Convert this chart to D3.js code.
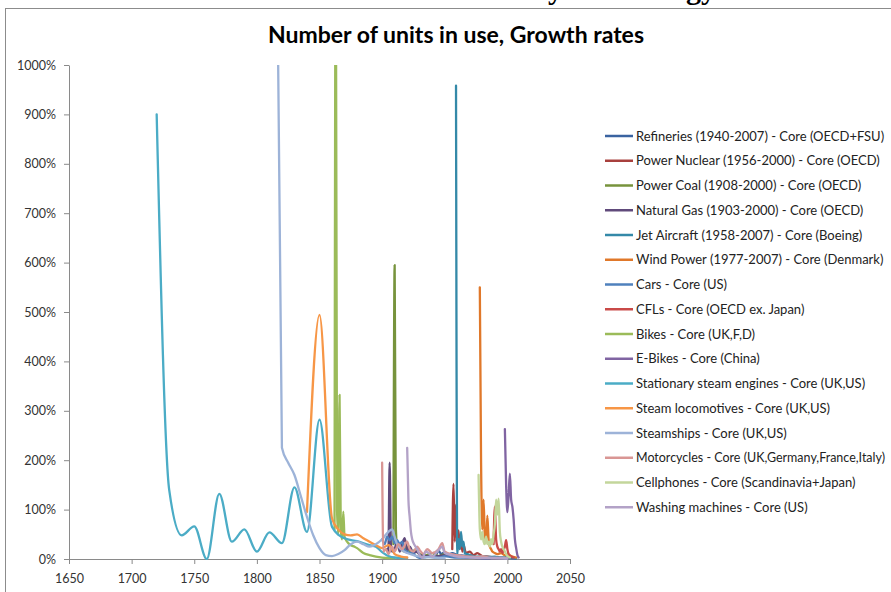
<!DOCTYPE html>
<html><head><meta charset="utf-8">
<script src="https://cdn.jsdelivr.net/npm/d3@7"></script>
<style>
html,body{margin:0;padding:0;background:#fff;}
svg{display:block;}
</style></head>
<body>
<svg id="chart" width="891" height="592"></svg>
<script>
// ---------- DATA (growth rate, % per year) ----------
const xTicks = [1650,1700,1750,1800,1850,1900,1950,2000,2050];
const yTicks = [0,100,200,300,400,500,600,700,800,900,1000];

const refineries = [[1941,12],[1943,8],[1945,18],[1947,10],[1950,14],[1953,9],[1956,12],[1960,8],[1965,7],[1970,6],[1975,4],[1980,2],[1985,1],[1990,2],[1995,1],[2000,2],[2007,1]];
const powerNuclear = [[1956,20],[1957,152],[1958,35],[1959,110],[1960,30],[1961,58],[1962,20],[1963,45],[1964,15],[1965,28],[1967,12],[1970,15],[1973,8],[1976,12],[1980,6],[1985,5],[1990,3],[1995,2],[2000,1]];
const powerCoal = [[1909,30],[1910,595],[1911,60],[1912,25],[1913,30],[1915,20],[1918,15],[1920,25],[1923,12],[1926,18],[1930,10],[1935,8],[1940,12],[1945,6],[1950,10],[1955,8],[1960,6],[1965,5],[1970,4],[1975,3],[1980,3],[1985,2],[1990,1],[1995,1],[2000,1]];
const naturalGas = [[1904,20],[1905,15],[1906,195],[1907,30],[1908,15],[1910,20],[1912,35],[1914,15],[1916,30],[1918,42],[1920,18],[1922,25],[1925,12],[1928,15],[1930,8],[1935,6],[1940,5],[1945,6],[1950,8],[1955,6],[1960,5],[1965,4],[1970,3],[1975,2],[1980,1],[1990,1],[2000,1]];
const jetAircraft = [[1959,958],[1960,10],[1961,40],[1962,20],[1963,55],[1964,25],[1965,35],[1966,12],[1968,10],[1970,8],[1975,5],[1980,6],[1985,4],[1990,5],[1995,3],[2000,4],[2007,2]];
const windPower = [[1978,550],[1979,195],[1980,60],[1981,120],[1982,45],[1983,35],[1984,88],[1985,40],[1986,25],[1987,20],[1988,15],[1990,12],[1992,10],[1995,12],[1998,8],[2000,10],[2003,6],[2007,3]];
const cars = [[1900,40],[1902,30],[1904,45],[1906,38],[1908,45],[1910,32],[1912,38],[1914,30],[1916,35],[1918,18],[1920,15],[1922,12],[1924,14],[1926,8],[1930,2],[1935,4],[1940,5],[1945,2],[1950,6],[1955,4],[1960,3],[1970,3],[1980,2],[1990,2],[2000,1]];
const cfls = [[1989,30],[1990,106],[1991,40],[1992,25],[1993,20],[1994,15],[1995,20],[1996,12],[1997,18],[1998,25],[1999,38],[2000,20],[2001,10],[2003,5],[2005,3]];
const bikes = [[1862,60],[1863,1300],[1864,100],[1865,50],[1866,332],[1867,60],[1868,40],[1869,96],[1870,45],[1872,35],[1875,28],[1878,25],[1880,22],[1885,12],[1890,8],[1895,5],[1900,3],[1905,2],[1910,2]];
const eBikes = [[1998,263],[1999,150],[2000,95],[2001,130],[2002,173],[2003,120],[2004,106],[2005,80],[2006,40],[2007,22],[2008,8],[2009,3]];
const stationarySteam = [[1720,900],[1730,140],[1740,48],[1750,66],[1760,0],[1770,132],[1780,35],[1790,60],[1800,15],[1810,54],[1820,32],[1830,145],[1840,55],[1850,282],[1860,65],[1870,42],[1880,36],[1890,28],[1895,25],[1900,14],[1905,6],[1910,3],[1920,2]];
const steamLocomotives = [[1840,95],[1850,494],[1860,82],[1865,60],[1870,50],[1875,48],[1880,50],[1885,42],[1890,35],[1895,28],[1900,22],[1905,28],[1908,20],[1910,10],[1915,5],[1920,3]];
const steamships = [[1817,1000],[1820,225],[1825,195],[1830,170],[1835,128],[1840,85],[1845,48],[1850,22],[1855,8],[1860,6],[1865,10],[1870,18],[1875,30],[1880,35],[1885,30],[1890,25],[1895,30],[1900,40],[1905,55],[1908,60],[1910,45],[1912,30],[1915,20],[1920,12],[1925,8],[1930,5],[1935,4],[1940,3],[1950,2]];
const motorcycles = [[1900,195],[1901,15],[1903,20],[1905,10],[1908,25],[1910,15],[1913,30],[1916,20],[1920,35],[1922,20],[1925,15],[1928,25],[1930,18],[1933,10],[1936,20],[1940,12],[1945,20],[1948,32],[1950,15],[1955,10],[1960,8],[1965,6],[1970,5],[1975,4],[1980,6],[1985,3],[1990,2],[2000,2]];
const cellphones = [[1977,170],[1978,60],[1979,40],[1980,55],[1981,35],[1982,30],[1983,45],[1984,30],[1985,35],[1986,25],[1987,40],[1988,30],[1989,50],[1990,70],[1991,120],[1992,90],[1993,122],[1994,55],[1995,35],[1996,25],[1997,20],[1998,15],[1999,10],[2000,6],[2002,3]];
const washingMachines = [[1920,225],[1921,120],[1922,85],[1923,55],[1924,40],[1926,28],[1928,20],[1930,8],[1932,2],[1935,15],[1938,10],[1940,5],[1945,18],[1948,25],[1950,12],[1955,8],[1960,5],[1965,4],[1970,3],[1980,2],[1990,2],[2000,1]];

const seriesNames = [
  "Refineries (1940-2007) - Core (OECD+FSU)",
  "Power Nuclear (1956-2000) - Core (OECD)",
  "Power Coal (1908-2000) - Core (OECD)",
  "Natural Gas (1903-2000) - Core (OECD)",
  "Jet Aircraft (1958-2007) - Core (Boeing)",
  "Wind Power (1977-2007) - Core (Denmark)",
  "Cars - Core (US)",
  "CFLs - Core (OECD ex. Japan)",
  "Bikes - Core (UK,F,D)",
  "E-Bikes - Core (China)",
  "Stationary steam engines - Core (UK,US)",
  "Steam locomotives - Core (UK,US)",
  "Steamships - Core (UK,US)",
  "Motorcycles - Core (UK,Germany,France,Italy)",
  "Cellphones - Core (Scandinavia+Japan)",
  "Washing machines - Core (US)"
];
const seriesValues = [refineries, powerNuclear, powerCoal, naturalGas, jetAircraft, windPower, cars, cfls, bikes, eBikes, stationarySteam, steamLocomotives, steamships, motorcycles, cellphones, washingMachines];
const seriesColors = ["#3A63A0","#A8403D","#77933C","#604A7B","#3489A8","#E0782A","#4F81BD","#C94A48","#9BBB59","#8064A2","#4BACC6","#F79646","#9DB3D8","#D99694","#C3D69B","#B3A2C7"];

// ---------- DRAW ----------
const svg = d3.select("#chart");
const W = 891, H = 592;
const font = "Lato, 'Liberation Sans', sans-serif";

// slide title cut by the top edge: only its descenders show
const serif = "'Liberation Serif', 'DejaVu Serif', serif";
svg.append("text").attr("x", 563).attr("y", -1.5).attr("text-anchor","end")
  .attr("font-family",serif).attr("font-weight","bold").attr("font-size", 30)
  .attr("fill","#000").text("Core Diffusion by");
svg.append("text").attr("x", 716).attr("y", -1.5).attr("text-anchor","end")
  .attr("font-family",serif).attr("font-weight","bold").attr("font-size", 30)
  .attr("fill","#000").text("Technology");
// chart frame
svg.append("rect").attr("x",5.5).attr("y",8.5).attr("width",W+20).attr("height",H+20)
  .attr("fill","#fff").attr("stroke","#8c8c8c").attr("stroke-width",1);

svg.append("text").attr("x",456).attr("y",43).attr("text-anchor","middle")
  .attr("font-family",font).attr("font-weight","bold").attr("font-size",23)
  .attr("fill","#000").text("Number of units in use, Growth rates");

const x = d3.scaleLinear().domain([1650,2050]).range([69,570]);
const y = d3.scaleLinear().domain([0,1000]).range([559,65]);

const xAxis = svg.append("g").attr("transform","translate(0,559)")
  .call(d3.axisBottom(x).tickValues(xTicks).tickFormat(d3.format("d")).tickSize(5).tickSizeOuter(0).tickPadding(10));
const yAxis = svg.append("g").attr("transform","translate(69,0)")
  .call(d3.axisLeft(y).tickValues(yTicks).tickFormat(d => d + "%").tickSize(5).tickSizeOuter(0).tickPadding(8));
[xAxis, yAxis].forEach(a => {
  a.select(".domain").attr("stroke","#8a8a8a");
  a.selectAll(".tick line").attr("stroke","#8a8a8a");
  a.selectAll(".tick text").attr("font-family",font).attr("font-size",12.5).attr("fill","#333");
});

svg.append("clipPath").attr("id","plotclip").append("rect")
  .attr("x",69).attr("y",y(1000)).attr("width",570-69).attr("height",y(0)-y(1000)+1);

const line = d3.line().x(d => x(d[0])).y(d => y(d[1])).curve(d3.curveMonotoneX);
const plot = svg.append("g").attr("clip-path","url(#plotclip)");
seriesValues.forEach((s,i) => {
  plot.append("path").datum(s).attr("d", line).attr("fill","none")
    .attr("stroke", seriesColors[i]).attr("stroke-width", 2.3)
    .attr("stroke-linejoin","round").attr("stroke-linecap","round");
});

// legend
const lg = svg.append("g");
seriesNames.forEach((name,i) => {
  const yy = 136 + i*24.75;
  lg.append("line").attr("x1",605).attr("x2",633).attr("y1",yy).attr("y2",yy)
    .attr("stroke",seriesColors[i]).attr("stroke-width",2.5);
  const t = lg.append("text").attr("x",636).attr("y",yy+4.5).attr("font-family",font)
    .attr("font-size",13).attr("fill","#222").text(name);
  const len = t.node().getComputedTextLength();
  if (len > 249) t.attr("textLength",249).attr("lengthAdjust","spacingAndGlyphs");
});
</script>
</body></html>
